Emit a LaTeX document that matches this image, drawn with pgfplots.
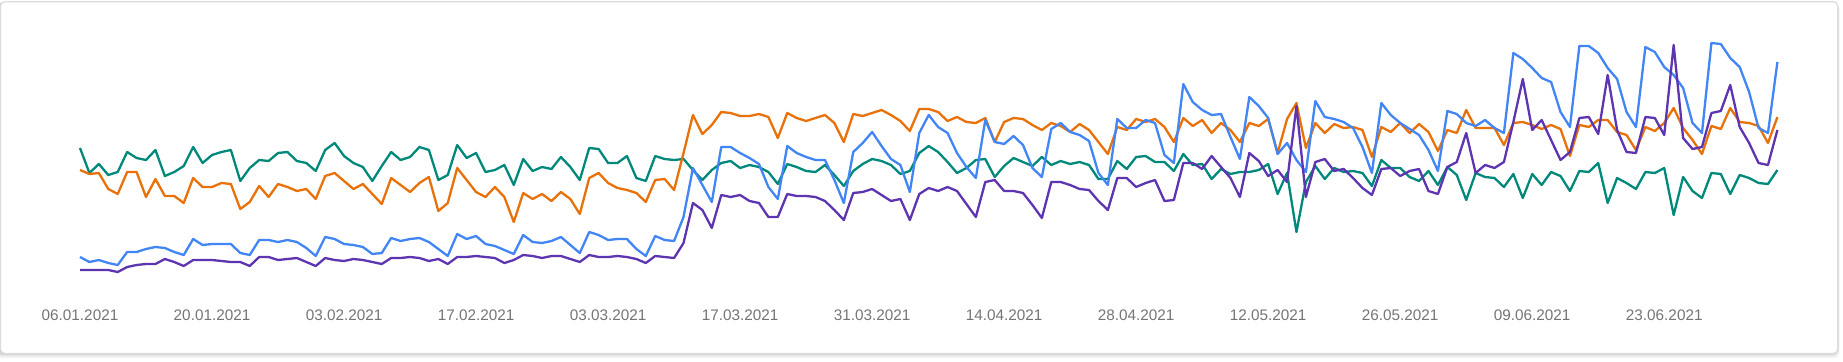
\documentclass[border=0pt]{standalone}
\usepackage{fontspec}
\setmainfont{Liberation Sans}
\usepackage{pgfplots}
\usepackage{pgfplotstable}
\pgfplotsset{compat=1.18}
\definecolor{gclicks}{HTML}{4285F4}
\definecolor{gimpr}{HTML}{5E35B1}
\definecolor{gctr}{HTML}{00897B}
\definecolor{gpos}{HTML}{E8710A}
\definecolor{labelgray}{HTML}{757575}
\pgfplotstableread{
d clicks impr ctr pos
0 43 30 152 130
1 38 30 127 126
2 40 30 136 127
3 37 30 125 111
4 35 28 128 106
5 48 33 148 128
6 48 35 142 128
7 51 36 140 103
8 53 36 150 121
9 52 41 124 104
10 48 38 128 104
11 45 34 134 97
12 61 40 153 122
13 55 40 137 113
14 56 40 145 113
15 56 39 148 117
16 56 38 150 116
17 47 38 119 91
18 45 34 132 98
19 60 43 140 114
20 60 43 139 103
21 58 40 147 116
22 60 41 148 113
23 58 42 139 109
24 52 38 137 111
25 44 34 129 101
26 63 42 150 124
27 61 40 157 127
28 56 39 144 119
29 55 41 137 111
30 53 40 133 116
31 46 38 119 106
32 47 36 134 96
33 62 42 148 122
34 59 42 140 115
35 61 43 143 108
36 62 42 153 117
37 58 39 150 123
38 51 41 120 89
39 44 36 125 97
40 66 43 155 132
41 61 43 142 120
42 64 44 147 108
43 56 43 128 103
44 54 42 130 113
45 50 37 135 103
46 46 40 115 78
47 65 45 141 107
48 58 44 129 101
49 57 42 133 106
50 59 44 131 99
51 63 44 143 108
52 55 41 133 101
53 47 38 120 86
54 68 45 152 122
55 65 43 151 127
56 60 43 137 117
57 61 44 137 112
58 61 43 144 110
59 51 41 122 107
60 44 37 119 98
61 64 44 144 120
62 60 43 141 121
63 59 42 140 110
64 83 57 141 147
65 132 97 130 185
66 115 90 120 166
67 98 72 130 175
68 153 105 137 188
69 153 103 139 187
70 147 105 132 184
71 142 99 135 184
72 136 97 133 186
73 113 83 128 183
74 101 83 116 162
75 154 106 136 187
76 147 104 133 182
77 143 104 129 179
78 140 103 128 182
79 140 99 135 185
80 120 90 125 177
81 97 80 114 158
82 148 107 129 186
83 157 108 136 184
84 168 111 141 187
85 154 105 139 190
86 141 99 135 185
87 135 101 126 179
88 108 80 129 169
89 167 106 147 191
90 185 112 154 191
91 173 109 148 188
92 167 113 138 179
93 147 109 127 183
94 133 96 132 178
95 122 83 140 177
96 180 118 141 182
97 158 120 123 158
98 156 109 134 178
99 164 109 142 182
100 155 107 138 181
101 132 95 134 175
102 123 82 143 170
103 171 118 135 177
104 177 118 139 174
105 168 115 136 168
106 165 111 138 176
107 159 110 135 170
108 127 99 121 158
109 115 90 121 146
110 181 122 139 173
111 172 122 131 170
112 172 113 143 181
113 180 117 144 178
114 177 120 138 181
115 145 99 138 173
116 137 100 129 158
117 216 137 146 182
118 198 137 135 174
119 190 131 136 180
120 185 144 121 167
121 186 133 131 177
122 163 122 126 170
123 141 103 128 158
124 203 147 128 177
125 194 139 130 174
126 182 124 136 181
127 146 130 106 147
128 157 118 127 181
129 140 194 68 197
130 128 103 118 152
131 199 138 134 177
132 183 141 121 167
133 181 129 132 176
134 178 131 128 172
135 172 122 129 173
136 153 112 127 170
137 127 105 114 143
138 197 131 140 173
139 185 132 132 168
140 177 124 132 177
141 171 129 123 167
142 165 131 119 176
143 150 109 129 168
144 129 106 115 149
145 189 133 133 170
146 186 138 125 167
147 177 167 100 190
148 174 127 127 172
149 180 135 123 172
150 172 132 122 172
151 167 138 113 155
152 247 178 126 177
153 241 221 102 178
154 232 170 126 175
155 222 180 115 171
156 218 160 128 175
157 188 140 124 171
158 173 148 109 144
159 254 182 129 175
160 254 183 128 173
161 247 166 137 180
162 232 225 97 180
163 221 170 122 168
164 188 148 117 165
165 173 147 111 150
166 253 183 128 173
167 248 182 127 169
168 233 165 132 177
169 225 255 85 192
170 212 162 123 172
171 177 151 109 160
172 167 153 102 146
173 257 187 127 174
174 256 189 126 171
175 242 215 106 192
176 233 173 125 178
177 208 157 122 177
178 172 137 117 174
179 167 135 116 157
180 238 170 130 183
}\datatable
\begin{document}
\begin{tikzpicture}
\useasboundingbox (0,0) rectangle (921.5pt,180.5pt);
% card shadow
\fill[black, opacity=0.05, rounded corners=3pt] (-2pt,1.5pt) rectangle (919.8pt,179pt);
\fill[black, opacity=0.06, rounded corners=3pt] (-2pt,2.5pt) rectangle (919.4pt,179pt);
\fill[black, opacity=0.08, rounded corners=3pt] (-2pt,3.2pt) rectangle (919.1pt,179pt);
% card
\filldraw[fill=white, draw=black!14, line width=0.6pt, rounded corners=2pt] (0.3pt,3.8pt) rectangle (918.8pt,179.6pt);
\begin{axis}[
  at={(30pt,35.5pt)}, anchor=south west,
  scale only axis, width=870pt, height=135pt,
  xmin=-2.121, xmax=182.397, ymin=10, ymax=280,
  axis line style={draw=none},
  major tick length=0pt,
  ytick=\empty,
  xtick={0,14,...,168},
  xticklabels={06.01.2021,20.01.2021,03.02.2021,17.02.2021,03.03.2021,17.03.2021,31.03.2021,14.04.2021,28.04.2021,12.05.2021,26.05.2021,09.06.2021,23.06.2021},
  x tick label style={font=\fontsize{7.65}{8}\selectfont, text=labelgray, anchor=center, yshift=-12.5pt},
  clip=false,
  every axis plot/.append style={line width=1.15pt, mark=none, line join=round},
]
\addplot[gctr] table[x=d, y=ctr] {\datatable};
\addplot[gpos] table[x=d, y=pos] {\datatable};
\addplot[gclicks] table[x=d, y=clicks] {\datatable};
\addplot[gimpr] table[x=d, y=impr] {\datatable};
\end{axis}
\end{tikzpicture}
\end{document}
